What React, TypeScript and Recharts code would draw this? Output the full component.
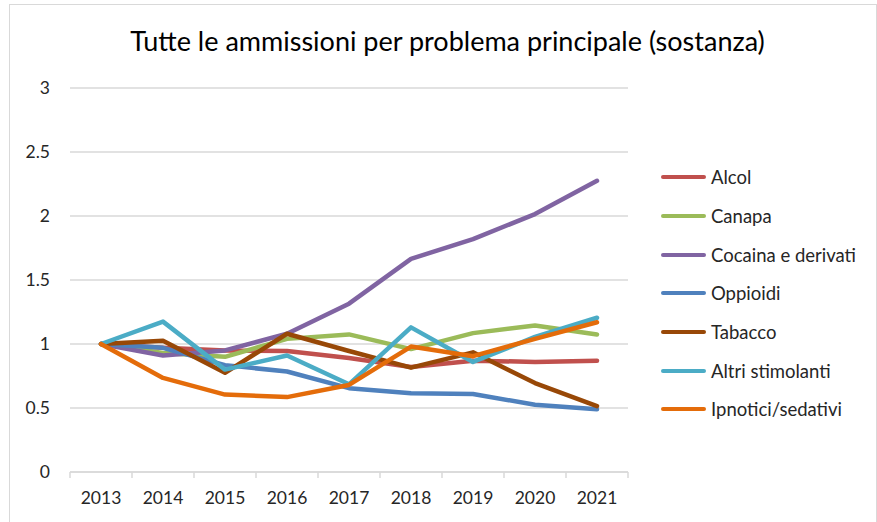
import React from "react";
import { LineChart, Line, XAxis, YAxis, CartesianGrid, Legend } from "recharts";

const years = ["2013", "2014", "2015", "2016", "2017", "2018", "2019", "2020", "2021"];
const alcol = [1.0, 0.97, 0.95, 0.945, 0.89, 0.82, 0.87, 0.86, 0.87];
const canapa = [1.0, 0.93, 0.9, 1.04, 1.075, 0.96, 1.085, 1.145, 1.075];
const cocaina = [1.0, 0.91, 0.95, 1.08, 1.315, 1.665, 1.82, 2.015, 2.275];
const oppioidi = [1.0, 0.97, 0.835, 0.785, 0.655, 0.615, 0.61, 0.525, 0.49];
const tabacco = [1.0, 1.025, 0.775, 1.08, 0.945, 0.815, 0.935, 0.695, 0.515];
const altriStimolanti = [1.0, 1.175, 0.8, 0.91, 0.685, 1.13, 0.86, 1.055, 1.205];
const ipnotici = [1.0, 0.735, 0.605, 0.585, 0.68, 0.98, 0.905, 1.04, 1.17];
const yTicks = [0, 0.5, 1, 1.5, 2, 2.5, 3];

const series = [
  { key: "Alcol", values: alcol, color: "#C0504D" },
  { key: "Canapa", values: canapa, color: "#9BBB59" },
  { key: "Cocaina e derivati", values: cocaina, color: "#8064A2" },
  { key: "Oppioidi", values: oppioidi, color: "#4F81BD" },
  { key: "Tabacco", values: tabacco, color: "#984807" },
  { key: "Altri stimolanti", values: altriStimolanti, color: "#4BACC6" },
  { key: "Ipnotici/sedativi", values: ipnotici, color: "#E46C0A" },
];

const data = years.map((y, i) => {
  const row: Record<string, string | number> = { year: y };
  series.forEach((s) => (row[s.key] = s.values[i]));
  return row;
});

const FONT = "Lato, 'Open Sans', sans-serif";
const PLOT_W = 558;
const BW = PLOT_W / years.length;

function YearTick(props: any) {
  const { x, y, payload, index } = props;
  return (
    <g>
      <line x1={x - BW / 2} x2={x - BW / 2} y1={y} y2={y + 6} stroke="#d9d9d9" strokeWidth={1.5} />
      {index === years.length - 1 && (
        <line x1={x + BW / 2} x2={x + BW / 2} y1={y} y2={y + 6} stroke="#d9d9d9" strokeWidth={1.5} />
      )}
      <text x={x} y={y + 32} textAnchor="middle" fill="#262626" fontSize={17.5} fontFamily={FONT}>
        {payload.value}
      </text>
    </g>
  );
}

function LegendBox() {
  return (
    <div style={{ fontFamily: FONT, fontSize: 18.5, color: "#262626" }}>
      {series.map((s) => (
        <div key={s.key} style={{ display: "flex", alignItems: "center", height: 38.7 }}>
          <svg width={48} height={8}>
            <line x1={3} x2={44} y1={4} y2={4} stroke={s.color} strokeWidth={4} strokeLinecap="round" />
          </svg>
          <span style={{ marginLeft: 3 }}>{s.key}</span>
        </div>
      ))}
    </div>
  );
}

export default function App() {
  return (
    <div style={{ position: "absolute", left: 0, top: 0, width: 877, height: 522, background: "#fff", overflow: "hidden" }}>
      <div style={{ position: "absolute", left: 9, top: 4, width: 866, height: 530, border: "1px solid #d9d9d9" }} />
      <div
        style={{
          position: "absolute",
          left: 0,
          top: 24,
          width: 895,
          textAlign: "center",
          fontFamily: FONT,
          fontSize: 27,
          color: "#000",
        }}
      >
        Tutte le ammissioni per problema principale (sostanza)
      </div>
      <div style={{ position: "absolute", left: 0, top: 0 }}>
        <LineChart width={877} height={522} data={data} margin={{ top: 88, right: 249, bottom: 20, left: 0 }}>
          <CartesianGrid vertical={false} stroke="#d9d9d9" strokeWidth={1.5} />
          <XAxis
            dataKey="year"
            scale="band"
            stroke="#d9d9d9"
            strokeWidth={1.5}
            tickLine={false}
            tickSize={0}
            tickMargin={0}
            tick={<YearTick />}
            interval={0}
          />
          <YAxis
            width={70}
            domain={[0, 3]}
            ticks={yTicks}
            axisLine={false}
            tickLine={false}
            tickSize={0}
            tickMargin={20}
            tick={{ fill: "#262626", fontSize: 17.5, fontFamily: FONT }}
          />
          <Legend
            layout="vertical"
            align="center"
            verticalAlign="middle"
            content={<LegendBox />}
            wrapperStyle={{ left: 660, top: 158, width: 215 }}
          />
          {series.map((s) => (
            <Line
              key={s.key}
              dataKey={s.key}
              stroke={s.color}
              strokeWidth={4.5}
              strokeLinecap="round"
              strokeLinejoin="round"
              dot={false}
              activeDot={false}
              isAnimationActive={false}
            />
          ))}
        </LineChart>
      </div>
    </div>
  );
}
